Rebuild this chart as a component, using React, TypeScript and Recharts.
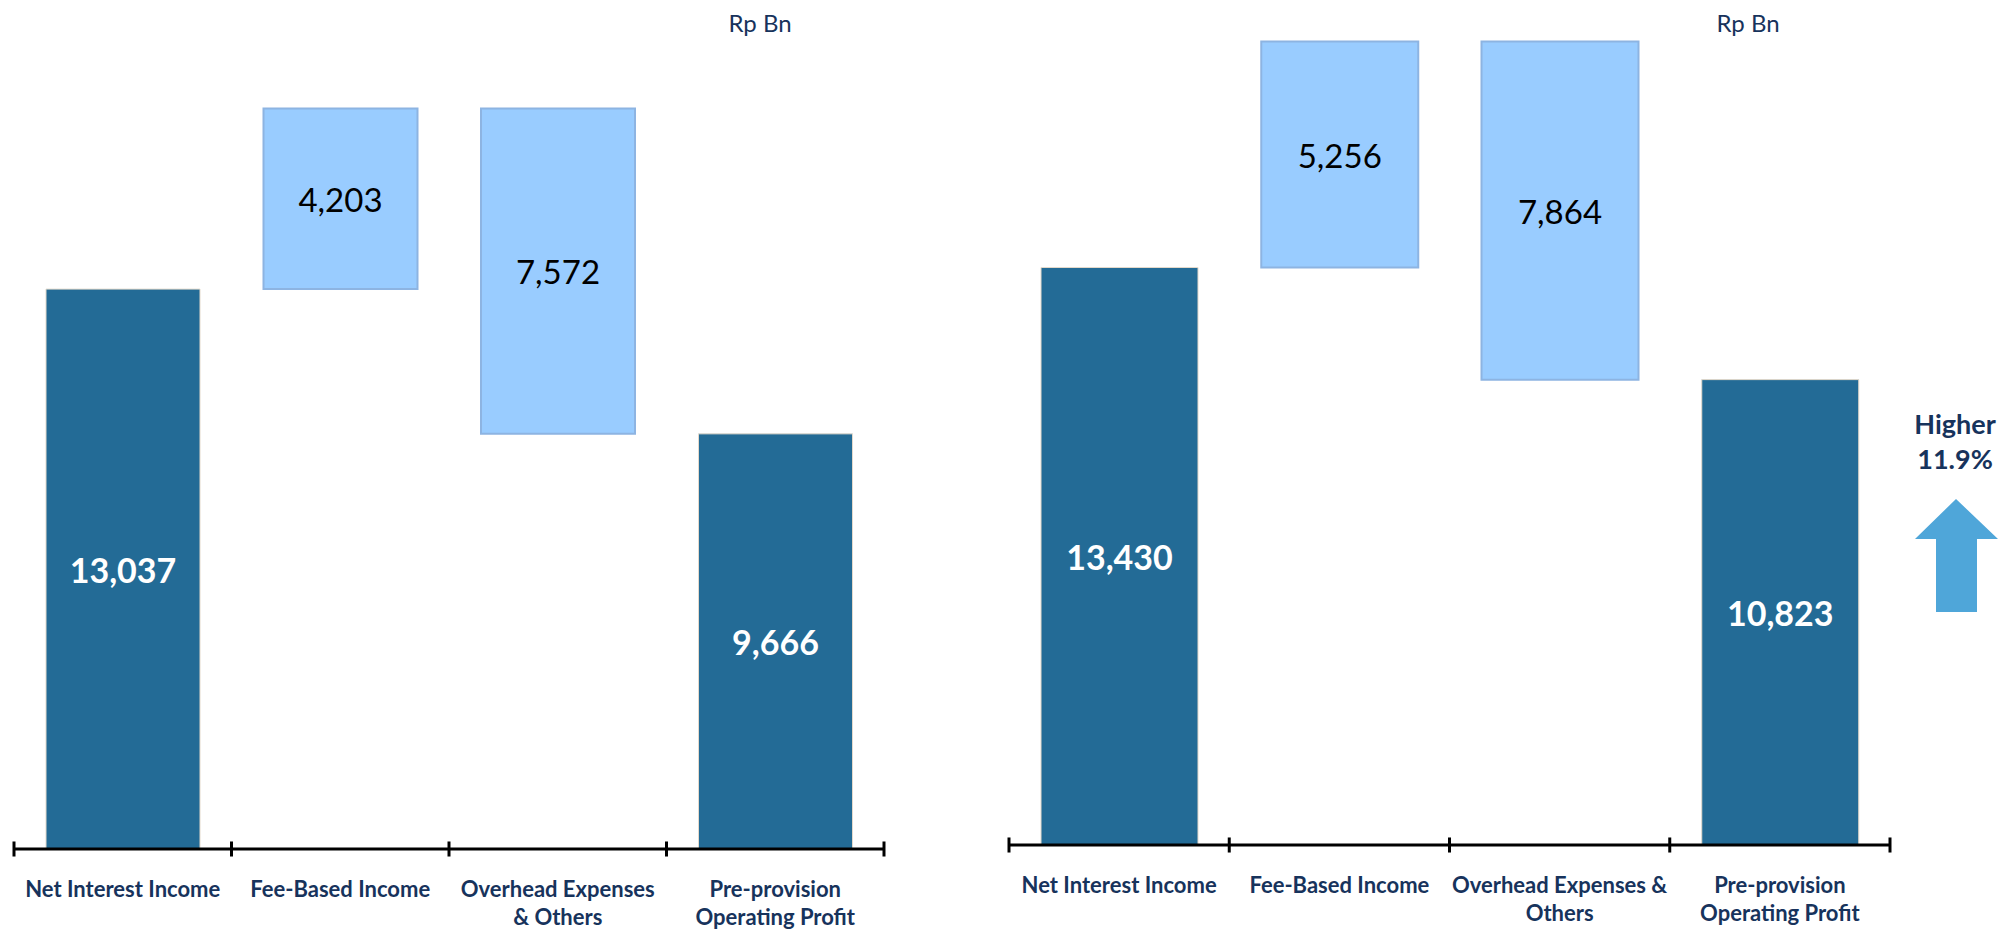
import React from "react";
import {
  Bar,
  BarChart,
  LabelList,
  ReferenceLine,
  XAxis,
  YAxis,
} from "recharts";

// categories + values (Rp Bn)
const CATEGORIES = [
  "Net Interest Income",
  "Fee-Based Income",
  "Overhead Expenses & Others",
  "Pre-provision Operating Profit",
];
const STEP_KIND = ["total", "up", "down", "total"];

const LEFT_VALUES = [13037, 4203, 7572, 9666];
const RIGHT_VALUES = [13430, 5256, 7864, 10823];

const LEFT_LINES = [
  ["Net Interest Income"],
  ["Fee-Based Income"],
  ["Overhead Expenses", "& Others"],
  ["Pre-provision", "Operating Profit"],
];
const RIGHT_LINES = [
  ["Net Interest Income"],
  ["Fee-Based Income"],
  ["Overhead Expenses &", "Others"],
  ["Pre-provision", "Operating Profit"],
];

const Y_MAX = 19000;
const UNIT_LABEL = "Rp Bn";
const GROWTH = ["Higher", "11.9%"];

const COLORS = {
  dark: "#236b96",
  darkEdge: "#e3d9cb",
  light: "#99ccff",
  lightEdge: "#8db4e2",
  navy: "#17335c",
  arrow: "#4fa6d9",
};
const FONT = "Lato, 'Open Sans', sans-serif";

// divider ticks between categories (start of each band + end of the last one)
const EDGE_MARKS = [
  ...CATEGORIES.map((c) => ({ cat: c, pos: "start" as const })),
  { cat: CATEGORIES[CATEGORIES.length - 1], pos: "end" as const },
];

function buildRows(values: number[]) {
  let running = 0;
  return CATEGORIES.map((name, i) => {
    const v = values[i];
    const kind = STEP_KIND[i];
    if (kind === "total") {
      running = v;
      return { name, base: 0, total: v, delta: null as number | null };
    }
    if (kind === "up") {
      const row = { name, base: running, total: null as number | null, delta: v };
      running += v;
      return row;
    }
    running -= v;
    return { name, base: running, total: null as number | null, delta: v };
  });
}

const fmt = (v: number) => v.toLocaleString("en-US");

function valueLabel(color: string, bold: boolean) {
  return (props: any) => {
    const { x, y, width, height, value } = props;
    if (value == null) return null;
    return (
      <text
        x={Number(x) + Number(width) / 2}
        y={Number(y) + Number(height) / 2}
        textAnchor="middle"
        dominantBaseline="central"
        fill={color}
        fontFamily={FONT}
        fontWeight={bold ? 700 : 400}
        fontSize={bold ? 34 : 33}
      >
        {fmt(Number(value))}
      </text>
    );
  };
}

function makeTick(lines: string[][]) {
  return (props: any) => {
    const { x, y, index } = props;
    const rows = lines[index] || [];
    return (
      <g>
        {rows.map((t, i) => (
          <text
            key={i}
            x={x}
            y={y + 48 + i * 28}
            textAnchor="middle"
            fill={COLORS.navy}
            fontFamily={FONT}
            fontWeight={700}
            fontSize={22}
          >
            {t}
          </text>
        ))}
      </g>
    );
  };
}

function Waterfall({
  values,
  lines,
  marginTop,
  marginBottom,
  marginRight,
  barSize,
}: {
  values: number[];
  lines: string[][];
  marginTop: number;
  marginBottom: number;
  marginRight: number;
  barSize: number;
}) {
  const data = buildRows(values);
  return (
    <BarChart
      width={900}
      height={931}
      data={data}
      margin={{ top: marginTop, right: marginRight, bottom: marginBottom, left: 14 }}
      barSize={barSize}
    >
      <YAxis hide domain={[0, Y_MAX]} allowDataOverflow />
      <XAxis
        dataKey="name"
        interval={0}
        height={79}
        tickLine={false}
        tickSize={0}
        tickMargin={0}
        axisLine={{ stroke: "#000", strokeWidth: 3 }}
        tick={makeTick(lines)}
      />
      <Bar dataKey="base" stackId="w" fill="transparent" isAnimationActive={false} />
      <Bar
        dataKey="total"
        stackId="w"
        fill={COLORS.dark}
        stroke={COLORS.darkEdge}
        strokeWidth={1}
        isAnimationActive={false}
      >
        <LabelList dataKey="total" content={valueLabel("#ffffff", true)} />
      </Bar>
      <Bar
        dataKey="delta"
        stackId="w"
        fill={COLORS.light}
        stroke={COLORS.lightEdge}
        strokeWidth={2}
        isAnimationActive={false}
      >
        <LabelList dataKey="delta" content={valueLabel("#000000", false)} />
      </Bar>
      {EDGE_MARKS.map((m, i) => (
        <ReferenceLine
          key={i}
          position={m.pos}
          ifOverflow="visible"
          segment={[
            { x: m.cat, y: -175 },
            { x: m.cat, y: 175 },
          ]}
          stroke="#000"
          strokeWidth={3}
        />
      ))}
    </BarChart>
  );
}

export default function App() {
  return (
    <div
      style={{
        position: "absolute",
        left: 0,
        top: 0,
        width: 2002,
        height: 931,
        background: "#fff",
        overflow: "hidden",
      }}
    >
      <div style={{ position: "absolute", left: 0, top: 0 }}>
        <Waterfall
          values={LEFT_VALUES}
          lines={LEFT_LINES}
          marginTop={33}
          marginBottom={3}
          marginRight={16}
          barSize={154}
        />
      </div>
      <div style={{ position: "absolute", left: 995, top: 0 }}>
        <Waterfall
          values={RIGHT_VALUES}
          lines={RIGHT_LINES}
          marginTop={28}
          marginBottom={7}
          marginRight={5}
          barSize={157}
        />
      </div>
      <svg
        width={2002}
        height={931}
        style={{ position: "absolute", left: 0, top: 0, pointerEvents: "none" }}
      >
        <text x={760} y={22} textAnchor="middle" dominantBaseline="central" fill={COLORS.navy} fontFamily={FONT} fontSize={24}>
          {UNIT_LABEL}
        </text>
        <text x={1748} y={22} textAnchor="middle" dominantBaseline="central" fill={COLORS.navy} fontFamily={FONT} fontSize={24}>
          {UNIT_LABEL}
        </text>
        {GROWTH.map((t, i) => (
          <text
            key={t}
            x={1955}
            y={423 + i * 35}
            textAnchor="middle"
            dominantBaseline="central"
            fill={COLORS.navy}
            fontFamily={FONT}
            fontWeight={700}
            fontSize={27}
          >
            {t}
          </text>
        ))}
        <polygon
          points="1956,499 1998,539 1977,539 1977,612 1936,612 1936,539 1915,539"
          fill={COLORS.arrow}
        />
      </svg>
    </div>
  );
}
